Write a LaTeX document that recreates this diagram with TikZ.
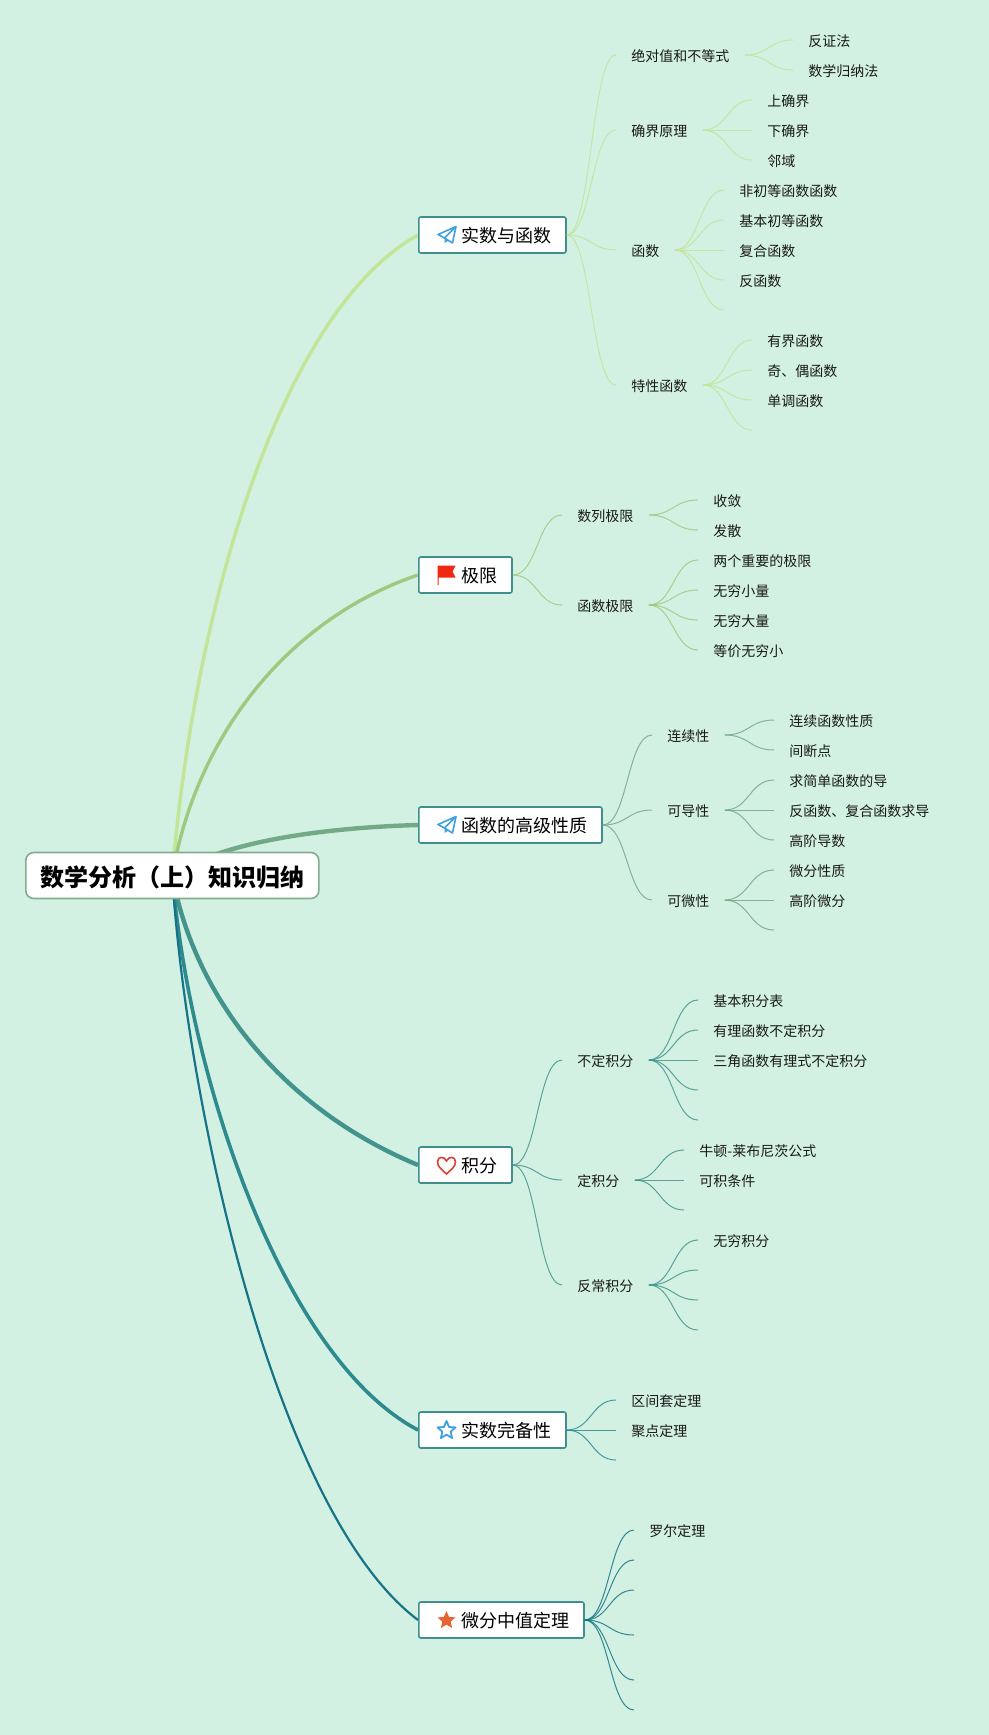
\documentclass[tikz,border=0pt]{standalone}
\usepackage{fontspec}
\setmainfont{Noto Sans CJK SC}
\usetikzlibrary{calc,positioning,backgrounds}
\definecolor{mindbg}{RGB}{211,241,226}
\definecolor{rootline}{RGB}{130,173,143}
\definecolor{boxline}{RGB}{63,143,143}
\definecolor{lineone}{RGB}{194,229,151}
\definecolor{linetwo}{RGB}{159,201,127}
\definecolor{linethree}{RGB}{115,169,135}
\definecolor{linefour}{RGB}{68,148,142}
\definecolor{linefive}{RGB}{45,138,142}
\definecolor{linesix}{RGB}{23,116,136}
\definecolor{planeblue}{RGB}{62,160,220}
\definecolor{flagred}{RGB}{240,40,15}
\definecolor{heartred}{RGB}{215,65,55}
\definecolor{starorange}{RGB}{230,100,50}
\tikzset{
	rootnode/.style={draw=rootline, line width=0.8pt, fill=white, rounded corners=4pt, anchor=west, minimum width=146.5pt, minimum height=23pt, inner xsep=0pt, inner ysep=0pt, text height=1.05em, text depth=0pt, font=\fontsize{12}{14}\selectfont\bfseries},
	branchnode/.style={draw=boxline, line width=0.8pt, fill=white, rounded corners=1pt, anchor=west, minimum height=18pt, inner xsep=7.2pt, inner ysep=0pt, text height=0.88em, text depth=0.12em, font=\fontsize{9}{11}\selectfont},
	topicnode/.style={anchor=west, inner xsep=7.5pt, inner ysep=0pt, text height=0.81em, text depth=0.19em, text=black!90, font=\fontsize{7}{8.4}\selectfont},
	link/.style={line width=0.5pt, opacity=0.85, to path={.. controls ($(\tikztostart)!0.5!(\tikztotarget |- \tikztostart)$) and ($(\tikztotarget)!0.5!(\tikztostart |- \tikztotarget)$) .. (\tikztotarget)}},
	planeicon/.pic={
		\draw[planeblue, line width=0.8pt, line join=round] (9.5,-8.5) -- (-8.5,-0.5) -- (-2,3) -- cycle;
		\draw[planeblue, line width=0.8pt, line join=round] (9.5,-8.5) -- (6,8) -- (-2,3);
		\fill[planeblue] (-2,3) -- (-2,8) -- (2,5.5) -- cycle;
	},
	flagicon/.pic={
		\fill[flagred] (-9,-9.5) -- (9,-9.5) -- (6,-3.5) -- (9,2.5) -- (-8,2.5) -- (-8,10) -- (-9,10) -- cycle;
	},
	hearticon/.pic={
		\draw[heartred, line width=0.8pt] (0,9) .. controls (-4,5) and (-9,2) .. (-9,-3) .. controls (-9,-9) and (-2,-9) .. (0,-4) .. controls (2,-9) and (9,-9) .. (9,-3) .. controls (9,2) and (4,5) .. (0,9) -- cycle;
	},
	staroutline/.pic={
		\draw[planeblue, line width=0.9pt, line join=round] (0,-9) -- (2.6,-3) -- (9,-2.6) -- (4.2,1.6) -- (5.6,8) -- (0,4.6) -- (-5.6,8) -- (-4.2,1.6) -- (-9,-2.6) -- (-2.6,-3) -- cycle;
	},
	starfilled/.pic={
		\fill[starorange] (0,-9) -- (2.6,-3) -- (9,-2.6) -- (4.2,1.6) -- (5.6,8) -- (0,4.6) -- (-5.6,8) -- (-4.2,1.6) -- (-9,-2.6) -- (-2.6,-3) -- cycle;
	},
}
\begin{document}
\begin{tikzpicture}[x=0.5pt, y=-0.5pt]
	\useasboundingbox (0,0) rectangle (989,1735);
	
	\node[rootnode] (root) at (25,875.5) {数学分析（上）知识归纳};
	
	\node[branchnode] (shishu) at (418,235) {\hspace*{14.2pt}实数与函数};
	\node[branchnode] (jixian) at (418,575) {\hspace*{14.2pt}极限};
	\node[branchnode] (gaoji) at (418,825) {\hspace*{14.2pt}函数的高级性质};
	\node[branchnode] (jifen) at (418,1165) {\hspace*{14.2pt}积分};
	\node[branchnode] (wanbei) at (418,1430) {\hspace*{14.2pt}实数完备性};
	\node[branchnode] (zhongzhi) at (418,1620) {\hspace*{14.2pt}微分中值定理};
	
	\pic at (446.5,235) {planeicon};
	\pic at (446.5,575) {flagicon};
	\pic at (446.5,825) {planeicon};
	\pic at (446.5,1165) {hearticon};
	\pic at (446.5,1430) {staroutline};
	\pic at (446.5,1620) {starfilled};
	
	\node[topicnode] (juedui) at (616,55) {绝对值和不等式};
	\node[topicnode] (fanzheng) at (793,40) {反证法};
	\node[topicnode] (guina) at (793,70) {数学归纳法};
	\node[topicnode] (quejie) at (616,130) {确界原理};
	\node[topicnode] (shangque) at (752,100) {上确界};
	\node[topicnode] (xiaque) at (752,130) {下确界};
	\node[topicnode] (linyu) at (752,160) {邻域};
	\node[topicnode] (hanshu) at (616,250) {函数};
	\node[topicnode] (feichu) at (724,190) {非初等函数函数};
	\node[topicnode] (jiben) at (724,220) {基本初等函数};
	\node[topicnode] (fuhe) at (724,250) {复合函数};
	\node[topicnode] (fanhan) at (724,280) {反函数};
	\coordinate (hanshue) at (724,310);
	\node[topicnode] (texing) at (616,385) {特性函数};
	\node[topicnode] (youjie) at (752,340) {有界函数};
	\node[topicnode] (jiou) at (752,370) {奇、偶函数};
	\node[topicnode] (dandiao) at (752,400) {单调函数};
	\coordinate (texinge) at (752,430);
	
	\node[topicnode] (shulie) at (562,515) {数列极限};
	\node[topicnode] (shoulian) at (698,500) {收敛};
	\node[topicnode] (fasan) at (698,530) {发散};
	\node[topicnode] (hanji) at (562,605) {函数极限};
	\node[topicnode] (liangge) at (698,560) {两个重要的极限};
	\node[topicnode] (wuxiao) at (698,590) {无穷小量};
	\node[topicnode] (wuda) at (698,620) {无穷大量};
	\node[topicnode] (dengjia) at (698,650) {等价无穷小};
	
	\node[topicnode] (lianxu) at (652,735) {连续性};
	\node[topicnode] (lianhan) at (774,720) {连续函数性质};
	\node[topicnode] (jianduan) at (774,750) {间断点};
	\node[topicnode] (kedao) at (652,810) {可导性};
	\node[topicnode] (qiujian) at (774,780) {求简单函数的导};
	\node[topicnode] (fanfu) at (774,810) {反函数、复合函数求导};
	\node[topicnode] (gaodao) at (774,840) {高阶导数};
	\node[topicnode] (kewei) at (652,900) {可微性};
	\node[topicnode] (weixing) at (774,870) {微分性质};
	\node[topicnode] (gaowei) at (774,900) {高阶微分};
	\coordinate (keweie) at (774,930);
	
	\node[topicnode] (buding) at (562,1060) {不定积分};
	\node[topicnode] (jibenji) at (698,1000) {基本积分表};
	\node[topicnode] (youli) at (698,1030) {有理函数不定积分};
	\node[topicnode] (sanjiao) at (698,1060) {三角函数有理式不定积分};
	\coordinate (bufour) at (698,1090);
	\coordinate (bufive) at (698,1120);
	\node[topicnode] (dingji) at (562,1180) {定积分};
	\node[topicnode] (niudun) at (684,1150) {牛顿-莱布尼茨公式};
	\node[topicnode] (keji) at (684,1180) {可积条件};
	\coordinate (dingthree) at (684,1210);
	\node[topicnode] (fanchang) at (562,1285) {反常积分};
	\node[topicnode] (wuqiong) at (698,1240) {无穷积分};
	\coordinate (fantwo) at (698,1270);
	\coordinate (fanthree) at (698,1300);
	\coordinate (fanfour) at (698,1330);
	
	\node[topicnode] (qujian) at (616,1400) {区间套定理};
	\node[topicnode] (judian) at (616,1430) {聚点定理};
	\coordinate (wanbeie) at (616,1460);
	
	\node[topicnode] (luoer) at (634,1530) {罗尔定理};
	\coordinate (zhongtwo) at (634,1560);
	\coordinate (zhongthree) at (634,1590);
	\coordinate (zhongfour) at (634,1635);
	\coordinate (zhongfive) at (634,1680);
	\coordinate (zhongsix) at (634,1710);
	
	\begin{pgfonlayer}{background}
		\fill[mindbg] (0,0) rectangle (989,1735);
		\draw[lineone, line width=1.7pt] (root.center) .. controls (195,600) and (283,310) .. (shishu.west);
		\draw[linetwo, line width=1.7pt] (root.center) .. controls (195,740) and (285,620) .. (jixian.west);
		\draw[linethree, line width=2.2pt] (root.center) .. controls (215,845) and (310,828) .. (gaoji.west);
		\draw[linefour, line width=2.2pt] (root.center) .. controls (195,1000) and (285,1110) .. (jifen.west);
		\draw[linefive, line width=1.8pt] (root.center) .. controls (190,1085) and (285,1360) .. (wanbei.west);
		\draw[linesix, line width=1.1pt] (root.center) .. controls (185,1090) and (272,1510) .. (zhongzhi.west);
	\end{pgfonlayer}
	
	\draw[link, lineone] (shishu.east) to (juedui.west);
	\draw[link, lineone] (shishu.east) to (quejie.west);
	\draw[link, lineone] (shishu.east) to (hanshu.west);
	\draw[link, lineone] (shishu.east) to (texing.west);
	\draw[link, lineone] (juedui.east) to (fanzheng.west);
	\draw[link, lineone] (juedui.east) to (guina.west);
	\draw[link, lineone] (quejie.east) to (shangque.west);
	\draw[link, lineone] (quejie.east) to (xiaque.west);
	\draw[link, lineone] (quejie.east) to (linyu.west);
	\draw[link, lineone] (hanshu.east) to (feichu.west);
	\draw[link, lineone] (hanshu.east) to (jiben.west);
	\draw[link, lineone] (hanshu.east) to (fuhe.west);
	\draw[link, lineone] (hanshu.east) to (fanhan.west);
	\draw[link, lineone] (hanshu.east) to (hanshue);
	\draw[link, lineone] (texing.east) to (youjie.west);
	\draw[link, lineone] (texing.east) to (jiou.west);
	\draw[link, lineone] (texing.east) to (dandiao.west);
	\draw[link, lineone] (texing.east) to (texinge);
	
	\draw[link, linetwo] (jixian.east) to (shulie.west);
	\draw[link, linetwo] (jixian.east) to (hanji.west);
	\draw[link, linetwo] (shulie.east) to (shoulian.west);
	\draw[link, linetwo] (shulie.east) to (fasan.west);
	\draw[link, linetwo] (hanji.east) to (liangge.west);
	\draw[link, linetwo] (hanji.east) to (wuxiao.west);
	\draw[link, linetwo] (hanji.east) to (wuda.west);
	\draw[link, linetwo] (hanji.east) to (dengjia.west);
	
	\draw[link, linethree] (gaoji.east) to (lianxu.west);
	\draw[link, linethree] (gaoji.east) to (kedao.west);
	\draw[link, linethree] (gaoji.east) to (kewei.west);
	\draw[link, linethree] (lianxu.east) to (lianhan.west);
	\draw[link, linethree] (lianxu.east) to (jianduan.west);
	\draw[link, linethree] (kedao.east) to (qiujian.west);
	\draw[link, linethree] (kedao.east) to (fanfu.west);
	\draw[link, linethree] (kedao.east) to (gaodao.west);
	\draw[link, linethree] (kewei.east) to (weixing.west);
	\draw[link, linethree] (kewei.east) to (gaowei.west);
	\draw[link, linethree] (kewei.east) to (keweie);
	
	\draw[link, linefour] (jifen.east) to (buding.west);
	\draw[link, linefour] (jifen.east) to (dingji.west);
	\draw[link, linefour] (jifen.east) to (fanchang.west);
	\draw[link, linefour] (buding.east) to (jibenji.west);
	\draw[link, linefour] (buding.east) to (youli.west);
	\draw[link, linefour] (buding.east) to (sanjiao.west);
	\draw[link, linefour] (buding.east) to (bufour);
	\draw[link, linefour] (buding.east) to (bufive);
	\draw[link, linefour] (dingji.east) to (niudun.west);
	\draw[link, linefour] (dingji.east) to (keji.west);
	\draw[link, linefour] (dingji.east) to (dingthree);
	\draw[link, linefour] (fanchang.east) to (wuqiong.west);
	\draw[link, linefour] (fanchang.east) to (fantwo);
	\draw[link, linefour] (fanchang.east) to (fanthree);
	\draw[link, linefour] (fanchang.east) to (fanfour);
	
	\draw[link, linefive] (wanbei.east) to (qujian.west);
	\draw[link, linefive] (wanbei.east) to (judian.west);
	\draw[link, linefive] (wanbei.east) to (wanbeie);
	
	\draw[link, linesix] (zhongzhi.east) to (luoer.west);
	\draw[link, linesix] (zhongzhi.east) to (zhongtwo);
	\draw[link, linesix] (zhongzhi.east) to (zhongthree);
	\draw[link, linesix] (zhongzhi.east) to (zhongfour);
	\draw[link, linesix] (zhongzhi.east) to (zhongfive);
	\draw[link, linesix] (zhongzhi.east) to (zhongsix);
\end{tikzpicture}
\end{document}
